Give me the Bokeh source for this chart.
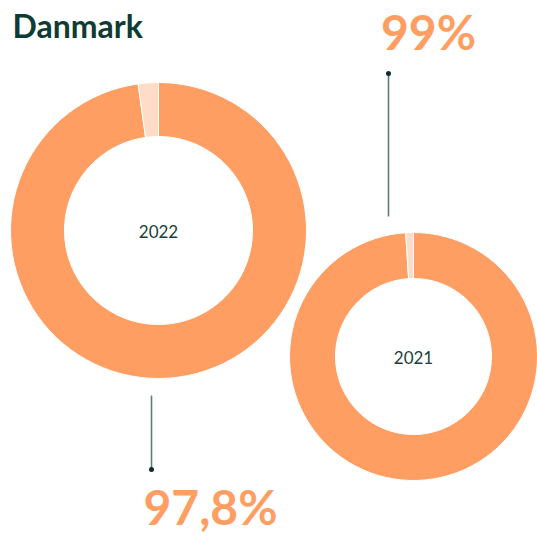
from bokeh.plotting import figure
from bokeh.models import Range1d, ColumnDataSource
from bokeh.core.properties import value
from bokeh.embed import file_html
from bokeh.resources import INLINE

# ---- data ----
title = "Danmark"
years = ["2022", "2021"]
share = [97.8, 99.0]          # percent
share_labels = ["97,8%", "99%"]

# ---- layout (pixel space, y measured from bottom of 537px canvas) ----
W = 537
cx = [158, 413]
cy = [W - 230, W - 356]
r_out = [148, 124]
r_in = [94, 78]

ORANGE = "#FF9E63"
LIGHT = "#FFDCC8"
DARK = "#0E3B33"
LINE = "#5C7F7A"

main_start, main_end, rest_start, rest_end = [], [], [], []
for s in share:
    deg_rest = (100 - s) / 100 * 360
    rest_start.append(90.0)
    rest_end.append(90.0 + deg_rest)
    main_start.append(90.0 + deg_rest)
    main_end.append(450.0)

src = ColumnDataSource(dict(
    x=cx, y=cy, ro=r_out, ri=r_in,
    ms=main_start, me=main_end, rs=rest_start, re=rest_end,
    year=years, lab=share_labels,
))

p = figure(width=W, height=W, output_backend="svg", toolbar_location=None,
           x_range=Range1d(0, W), y_range=Range1d(0, W), min_border=0,
           background_fill_color="white", border_fill_color="white")
p.axis.visible = False
p.grid.visible = False
p.outline_line_color = None

p.annular_wedge(x="x", y="y", inner_radius="ri", outer_radius="ro",
                start_angle="ms", end_angle="me", start_angle_units="deg", end_angle_units="deg",
                fill_color=ORANGE, line_color="white", line_width=1, source=src)
p.annular_wedge(x="x", y="y", inner_radius="ri", outer_radius="ro",
                start_angle="rs", end_angle="re", start_angle_units="deg", end_angle_units="deg",
                fill_color=LIGHT, line_color="white", line_width=1, source=src)

# year labels in centres
p.text(x="x", y="y", text="year", source=src, text_align="center", text_baseline="middle",
       text_font=value("Lato"), text_font_size="17px", text_color="#1B3F3A",
       y_offset=1)

# connectors
seg_x = [151, 388]
seg_y0 = [W - 395, W - 216]
seg_y1 = [W - 469, W - 73]
p.segment(x0=seg_x, y0=seg_y0, x1=seg_x, y1=seg_y1, line_color=LINE, line_width=1.6)
p.scatter(x=seg_x, y=seg_y1, size=5, fill_color="#0B2E28", line_color=None)

# percentage labels
lab_x = [210, 428]
lab_y = [W - 505, W - 30]
p.text(x=lab_x, y=lab_y, text=share_labels, text_align="center", text_baseline="middle",
       text_font=value("Lato"), text_font_style="bold", text_font_size="48px", text_color=ORANGE,
       y_offset=1)

# title
p.text(x=[12], y=[W - 24], text=[title], text_align="left", text_baseline="middle",
       text_font=value("Lato"), text_font_style="bold", text_font_size="32px", text_color=DARK,
       y_offset=1)

open("out.html", "w").write(file_html(p, INLINE))
